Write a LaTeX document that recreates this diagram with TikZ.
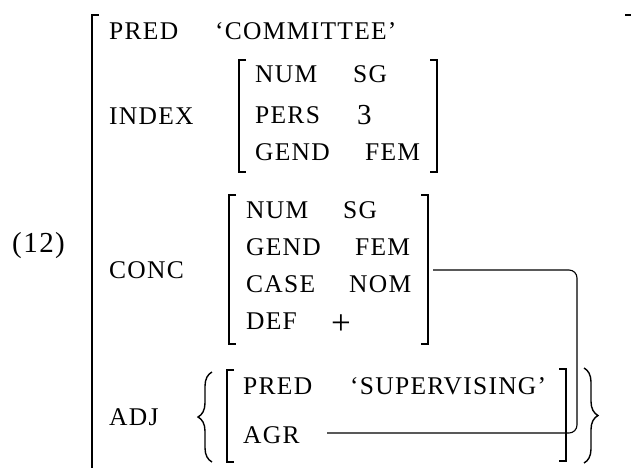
\documentclass[tikz,border=0pt]{standalone}
\usepackage{fontspec}
\setmainfont{Liberation Serif}[LetterSpace=5]
\usetikzlibrary{decorations.pathreplacing}

\begin{document}
\begin{tikzpicture}[x=1pt,y=-1pt,
    txt/.style={anchor=base west,inner sep=0pt,font=\fontsize{25.5}{30}\selectfont},
    big/.style={txt,font=\fontsize{29}{32}\selectfont},
    brk/.style={line width=1.6pt},
    brc/.style={line width=1.4pt,decorate,decoration={brace,amplitude=14pt}}]
    \useasboundingbox (0,0) rectangle (631,467);
    % example number and outer attributes
    \node[big] (ex) at (12,252) {(12)};
    \node[txt] (pred) at (109,39) {PRED};
    \node[txt] (predval) at (215,39) {`COMMITTEE'};
    \node[txt] (index) at (109,124) {INDEX};
    \node[txt] (conc) at (109,278) {CONC};
    \node[txt] (adj) at (109,425) {ADJ};
    % INDEX
    \node[txt] (inum) at (255,82) {NUM};
    \node[txt] (isg) at (353,82) {SG};
    \node[txt] (ipers) at (255,123) {PERS};
    \node[big] (ithree) at (357,124) {3};
    \node[txt] (igend) at (255,160) {GEND};
    \node[txt] (ifem) at (365,160) {FEM};
    % CONC
    \node[txt] (cnum) at (246,218) {NUM};
    \node[txt] (csg) at (343,218) {SG};
    \node[txt] (cgend) at (246,255) {GEND};
    \node[txt] (cfem) at (355,255) {FEM};
    \node[txt] (ccase) at (246,292) {CASE};
    \node[txt] (cnom) at (349,292) {NOM};
    \node[txt] (cdef) at (246,329) {DEF};
    \node[txt,font=\fontsize{35}{36}\selectfont] (cplus) at (331,334) {+};
    % ADJ
    \node[txt] (apred) at (243,394) {PRED};
    \node[txt] (apredval) at (350,394) {`SUPERVISING'};
    \node[txt] (aagr) at (243,443) {AGR};
    % brackets
    \foreach \x/\t/\b in {92/15/480, 239/60/172, 229/195/344, 227/370/462}
      \draw[brk] (\x+7,\t) -- (\x,\t) -- (\x,\b) -- (\x+7,\b);
    \foreach \x/\t/\b in {632/15/480, 437/60/172, 428/195/344, 566/369/461}
      \draw[brk] (\x-7,\t) -- (\x,\t) -- (\x,\b) -- (\x-7,\b);
    % braces
    \draw[brc] (212,462) -- (212,372);
    \draw[brc] (584,368) -- (584,463);
    % reentrancy line
    \coordinate (concout) at (433,270);
    \coordinate (agrend) at (327,433);
    \draw[line width=1.1pt,rounded corners=8pt] (concout) -- (577,270) -- (577,433) -- (agrend);
\end{tikzpicture}
\end{document}
